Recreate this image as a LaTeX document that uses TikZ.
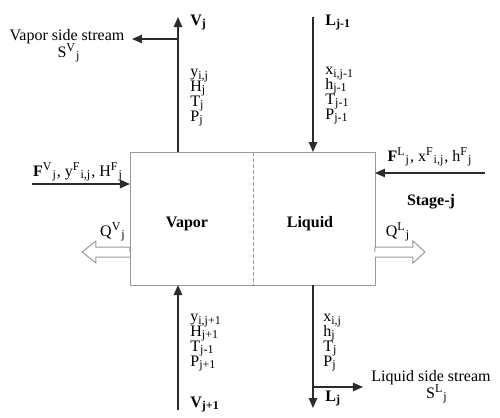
\documentclass[tikz,border=0pt]{standalone}
\usepackage{fontspec}
\setmainfont{Liberation Serif}
\usetikzlibrary{arrows.meta,positioning,calc}
\definecolor{stream}{HTML}{2B2B2B}
\definecolor{wall}{HTML}{9A9A9A}

\begin{document}
\begin{tikzpicture}[
		x=0.5pt, y=-0.5pt,
		font=\fontsize{8}{7.2}\selectfont,
		every node/.style={inner sep=0pt},
		txt/.style={anchor=base},
		props/.style={align=left, anchor=base west,
				font=\fontsize{8}{7.4}\selectfont,
				execute at begin node={\lineskiplimit=-20pt}},
		stagebox/.style={rectangle, draw=wall, line width=0.5pt,
				minimum width=122.5pt, minimum height=66.5pt},
		arr/.style={-{Triangle[length=5pt, width=4.2pt]}, line width=0.7pt, stream},
		hollow/.style={draw=wall, line width=0.5pt, fill=white},
		]

		\useasboundingbox (0,0) rectangle (500,418);

		% the stage
		\node[stagebox, anchor=north west] (stage) at (130,152) {};
		\draw[wall, line width=0.5pt, dash pattern=on 2pt off 1pt]
		(254,152) coordinate (divtop) -- (254,285) coordinate (divbot);
		\node[txt, font=\fontsize{8}{9}\selectfont\bfseries] (vapor)  at (187,227) {Vapor};
		\node[txt, font=\fontsize{8}{9}\selectfont\bfseries] (liquid) at (310,227) {Liquid};
		\node[txt, font=\fontsize{8}{9}\selectfont\bfseries] (stagej) at (431,205) {Stage-j};

		% stream points
		\coordinate (vout)  at (178,152);
		\coordinate (vtop)  at (178,17);
		\coordinate (vside) at (178,39);
		\coordinate (svtip) at (132,39);
		\coordinate (vin)   at (178,285);
		\coordinate (vbot)  at (178,410);
		\coordinate (ltop)  at (313,17);
		\coordinate (lin)   at (313,152);
		\coordinate (lout)  at (313,285);
		\coordinate (lbot)  at (313,408);
		\coordinate (lside) at (313,387);
		\coordinate (sltip) at (363,387);
		\coordinate (fvsrc) at (32,184);
		\coordinate (fvin)  at (130,184);
		\coordinate (flsrc) at (485,173);
		\coordinate (flin)  at (375,173);
		\coordinate (qvout) at (130,252);
		\coordinate (qlout) at (375,252);

		% streams
		\draw[arr] (vout) -- (vtop);
		\draw[arr] (vside) -- (svtip);
		\draw[arr] (vbot) -- (vin);
		\draw[arr] (ltop) -- (lin);
		\draw[arr] (lout) -- (lbot);
		\draw[arr] (lside) -- (sltip);
		\draw[arr] (fvsrc) -- (fvin);
		\draw[arr] (flsrc) -- (flin);

		% heat duties
		\draw[hollow] (qvout) -- ++(0,-5) -- ++(-34,0) -- ++(0,-6) -- ++(-14,11)
		-- ++(14,11) -- ++(0,-6) -- ++(34,0);
		\draw[hollow] (qlout) -- ++(0,-5) -- ++(38,0) -- ++(0,-6) -- ++(12,11)
		-- ++(-12,11) -- ++(0,-6) -- ++(-38,0);

		% labels
		\node[anchor=base west, font=\fontsize{8}{9}\selectfont\bfseries] (vj) at (190,25)
		{V\textsubscript{j}};
		\node[anchor=base west, font=\fontsize{8}{9}\selectfont\bfseries] (ljm) at (325,25)
		{L\textsubscript{j-1}};
		\node[anchor=base west, font=\fontsize{8}{9}\selectfont\bfseries] (vjp) at (190,407)
		{V\textsubscript{j+1}};
		\node[anchor=base west, font=\fontsize{8}{9}\selectfont\bfseries] (lj) at (325,401)
		{L\textsubscript{j}};

		\node[txt] (svtxt) at (67,40) {Vapor side stream};
		\node[txt] (svsym) at (69,57) {S\textsuperscript{V}\textsubscript{j}};
		\node[txt] (sltxt) at (431,381) {Liquid side stream};
		\node[txt] (slsym) at (437,398) {S\textsuperscript{L}\textsubscript{j}};

		% property lists, anchored at the last line
		\node[props] (vprop) at (190,121)
		{y\textsubscript{i,j}\\H\textsubscript{j}\\T\textsubscript{j}\\P\textsubscript{j}};
		\node[props] (lprop) at (325,119)
		{x\textsubscript{i,j-1}\\h\textsubscript{j-1}\\T\textsubscript{j-1}\\P\textsubscript{j-1}};
		\node[props] (vpprop) at (190,366)
		{y\textsubscript{i,j+1}\\H\textsubscript{j+1}\\T\textsubscript{j-1}\\P\textsubscript{j+1}};
		\node[props] (ljprop) at (323,366)
		{x\textsubscript{i,j}\\h\textsubscript{j}\\T\textsubscript{j}\\P\textsubscript{j}};

		\node[txt] (fvlbl) at (78,176)
		{\textbf{F}\textsuperscript{V}\textsubscript{j}, y\textsuperscript{F}\textsubscript{i,j}, H\textsuperscript{F}\textsubscript{j}};
		\node[txt] (fllbl) at (430,161)
		{\textbf{F}\textsuperscript{L}\textsubscript{j}, x\textsuperscript{F}\textsubscript{i,j}, h\textsuperscript{F}\textsubscript{j}};
		\node[txt] (qvlbl) at (113,236) {Q\textsuperscript{V}\textsubscript{j}};
		\node[txt] (qllbl) at (398,236) {Q\textsuperscript{L}\textsubscript{j}};

	\end{tikzpicture}
\end{document}
